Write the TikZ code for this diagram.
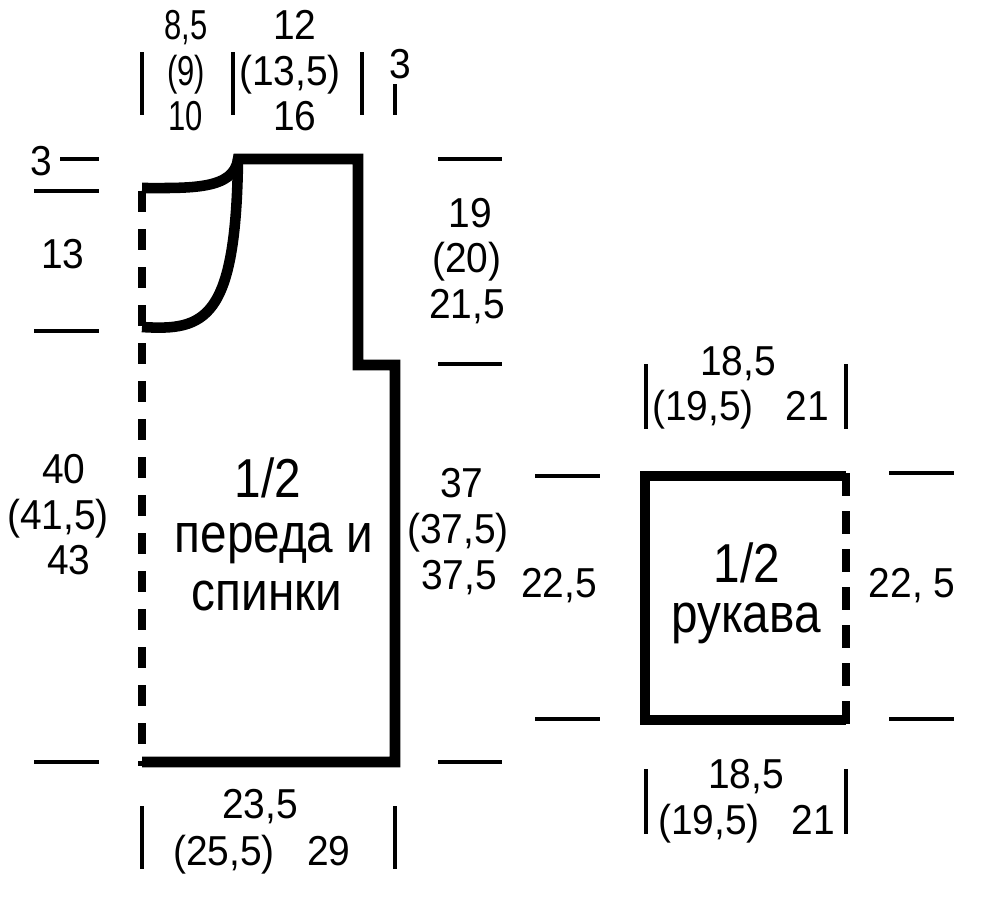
\documentclass[tikz,border=0pt]{standalone}
\usepackage{fontspec}
\setmainfont{Liberation Sans}
\newfontfamily\numfont[FakeStretch=0.93]{Liberation Sans}
\newfontfamily\thinfont[FakeStretch=0.74]{Liberation Sans}
\newfontfamily\bigfont[FakeStretch=0.87]{Liberation Sans}
\tikzset{
	sizelabel/.style={anchor=base,inner sep=0pt,font=\numfont\fontsize{11.9}{14}\selectfont},
	thinlabel/.style={anchor=base,inner sep=0pt,font=\thinfont\fontsize{11.9}{14}\selectfont},
	partlabel/.style={anchor=base,inner sep=0pt,font=\bigfont\fontsize{15.6}{18}\selectfont},
	outline/.style={line width=3pt,line join=miter},
	foldline/.style={line width=2.1pt},
	tickline/.style={line width=1pt}
}
\begin{document}
\begin{tikzpicture}[x=0.01cm,y=-0.01cm]
	\useasboundingbox (0,0) rectangle (1000,917);

	%Half of front and back
	\draw[outline] (142,188) .. controls (190,188) and (234,190) .. (238,159) -- (358,159) -- (358,365) -- (395,365) -- (395,762) -- (142,762);
	\draw[outline] (142,327) .. controls (205,331) and (236,320) .. (238,159);
	\draw[foldline,dash pattern=on 5.97pt off 4.84pt] (142,191) -- (142,766);

	%Half of sleeve
	\draw[outline] (846,476) -- (645,476) -- (645,720) -- (846,720);
	\draw[foldline,dash pattern=on 6.54pt off 4.27pt] (846,473) -- (846,725);

	%Measure ticks
	\foreach \x/\ya/\yb in {142/52/115,233/52/115,362/52/115,395/84/115,142/806/869,395/806/869,646/364/429,846/364/429,646/769/834,846/769/834}
		\draw[tickline] (\x,\ya) -- (\x,\yb);
	\foreach \y/\xa/\xb in {159/60/99,191/34/99,331/34/99,762/34/99,159/438/502,364/438/502,762/438/502,476/535/600,719/535/600,473/889/954,719/889/954}
		\draw[tickline] (\xa,\y) -- (\xb,\y);

	%Top sizes
	\node[thinlabel] (TopA1) at (186,39) {8,5};
	\node[thinlabel] (TopA2) at (186,85) {(9)};
	\node[thinlabel] (TopA3) at (186,130) {10};
	\node[sizelabel] (TopB1) at (295,39) {12};
	\node[sizelabel] (TopB2) at (290,85) {(13,5)};
	\node[sizelabel] (TopB3) at (295,130) {16};
	\node[sizelabel] (TopC) at (400,78) {3};

	%Left sizes
	\node[sizelabel] (LeftA) at (41,175) {3};
	\node[sizelabel] (LeftB) at (63,268) {13};
	\node[sizelabel] (LeftC1) at (64,483) {40};
	\node[sizelabel] (LeftC2) at (58,529) {(41,5)};
	\node[sizelabel] (LeftC3) at (69,574) {43};

	%Right sizes
	\node[sizelabel] (RightA1) at (470,227) {19};
	\node[sizelabel] (RightA2) at (467,272) {(20)};
	\node[sizelabel] (RightA3) at (467,318) {21,5};
	\node[sizelabel] (RightB1) at (462,497) {37};
	\node[sizelabel] (RightB2) at (458,543) {(37,5)};
	\node[sizelabel] (RightB3) at (459,589) {37,5};

	%Bottom sizes
	\node[sizelabel] (BotA) at (260,818) {23,5};
	\node[sizelabel] (BotB) at (224,865) {(25,5)};
	\node[sizelabel] (BotC) at (329,865) {29};

	%Sleeve sizes
	\node[sizelabel] (SlvTopA) at (738,375) {18,5};
	\node[sizelabel] (SlvTopB) at (703,420) {(19,5)};
	\node[sizelabel] (SlvTopC) at (807,420) {21};
	\node[sizelabel] (SlvLeft) at (559,597) {22,5};
	\node[sizelabel] (SlvRight) at (912,597) {22, 5};
	\node[sizelabel] (SlvBotA) at (746,788) {18,5};
	\node[sizelabel] (SlvBotB) at (709,834) {(19,5)};
	\node[sizelabel] (SlvBotC) at (813,834) {21};

	%Part names
	\node[partlabel] (BodyA) at (268,497) {1/2};
	\node[partlabel] (BodyB) at (274,552) {переда и};
	\node[partlabel] (BodyC) at (267,610) {спинки};
	\node[partlabel] (SleeveA) at (747,582) {1/2};
	\node[partlabel] (SleeveB) at (746,632) {рукава};
\end{tikzpicture}
\end{document}
